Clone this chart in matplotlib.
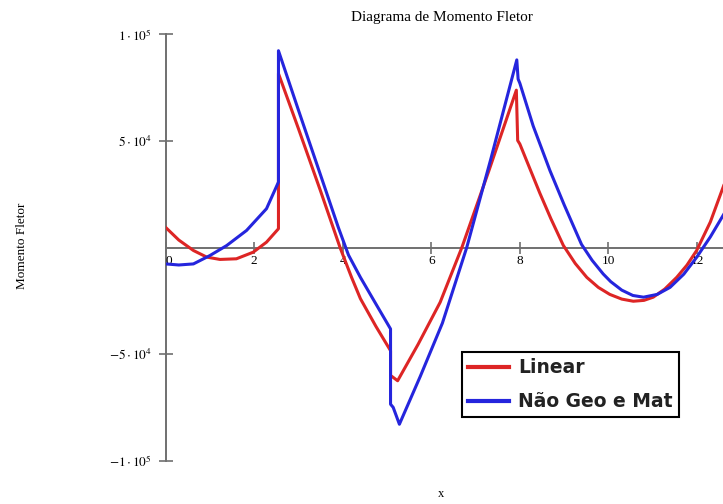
import numpy as np
import matplotlib
matplotlib.use("Agg")
import matplotlib.pyplot as plt

plt.rcParams['mathtext.fontset'] = 'stix'
plt.rcParams['font.family'] = ['Liberation Serif', 'DejaVu Serif']

# Linear
x_lin = [0.0, 0.3, 0.63, 0.93, 1.23, 1.6, 1.98, 2.28, 2.55, 2.55, 3.0, 3.5, 3.94,
         4.2, 4.4, 4.75, 5.08, 5.08, 5.24, 5.7, 6.2, 6.69, 7.3, 7.92, 7.95, 8.0,
         8.45, 8.7, 8.98, 9.25, 9.51, 9.77, 10.03, 10.3, 10.56, 10.8, 11.01, 11.27,
         11.54, 11.77, 11.99, 12.3, 12.6]
y_lin = [9500, 3500, -1400, -4500, -5600, -5300, -2200, 2500, 8800, 81600, 55800, 26500, 0,
         -14000, -24000, -37000, -48400, -60000, -62500, -45500, -25700, 0, 36000, 73800,
         50200, 48500, 25500, 13500, 1000, -7500, -14000, -18700, -22000, -24200, -25200,
         -24800, -23300, -19500, -14000, -8300, -1400, 12000, 29000]

# Nao linear geometrica e material
x_nl = [0.0, 0.3, 0.63, 1.0, 1.38, 1.83, 2.28, 2.55, 2.55, 3.0, 3.5, 3.9, 4.13, 4.4,
        4.75, 5.08, 5.08, 5.14, 5.28, 5.75, 6.25, 6.8, 7.35, 7.93, 7.96, 8.0, 8.3,
        8.68, 9.0, 9.2, 9.39, 9.63, 9.88, 10.05, 10.3, 10.55, 10.79, 11.1, 11.39,
        11.7, 11.99, 12.3, 12.6]
y_nl = [-7700, -8200, -7700, -3800, 900, 8000, 18200, 30700, 92300, 64500, 34000, 9500,
        -3500, -14000, -26500, -38200, -73500, -75000, -82900, -60500, -35500, 0, 42000,
        88000, 79000, 77000, 57000, 36000, 20000, 10500, 1500, -6000, -12400, -16000,
        -20000, -22500, -23300, -22000, -18700, -12500, -4600, 5000, 15500]

yticks = [-1e5, -5e4, 5e4, 1e5]
ytick_labels = [r'$-1\cdot10^{5}$', r'$-5\cdot10^{4}$', r'$5\cdot10^{4}$', r'$1\cdot10^{5}$']
xticks = [0, 2, 4, 6, 8, 10, 12]

fig = plt.figure(figsize=(7.23, 5.04), dpi=100)
ax = fig.add_axes([165.5/723, 43.3/504, 557.5/723, 426.4/504])

ax.plot(x_lin, y_lin, color='#dd2525', lw=2.2, label='Linear')
ax.plot(x_nl, y_nl, color='#2525dd', lw=2.2, label='Não Geo e Mat')

ax.set_xlim(0, 12.585)
ax.set_ylim(-1e5, 1e5)

for s in ['top', 'right']:
    ax.spines[s].set_visible(False)
ax.spines['left'].set_position(('data', 0))
ax.spines['bottom'].set_position(('data', 0))
for s in ['left', 'bottom']:
    ax.spines[s].set_color('#707070')
    ax.spines[s].set_linewidth(1.4)
    ax.spines[s].set_zorder(0)

ax.set_yticks(yticks)
ax.set_yticklabels(ytick_labels)
ax.set_xticks(xticks)
ax.set_xticklabels([str(v) for v in xticks])
ax.tick_params(axis='y', direction='inout', length=10, width=1.2, color='#707070',
               labelsize=9.5, pad=5)
ax.tick_params(axis='x', direction='inout', length=9, width=1.2, color='#707070',
               labelsize=9.5, pad=1)
ax.get_xticklabels()[0].set_horizontalalignment('left')

fig.text(442/723, 1 - 18/504, 'Diagrama de Momento Fletor', ha='center', va='center',
         fontsize=11)
fig.text(22/723, 1 - 246/504, 'Momento Fletor', ha='center', va='center',
         rotation=90, fontsize=9.5)
fig.text(441/723, 1 - 494/504, 'x', ha='center', va='center', fontsize=9)

leg = fig.legend(loc='upper left', bbox_to_anchor=(462/723, 1 - 352/504),
                 prop={'family': 'DejaVu Sans', 'size': 13.5, 'weight': 'bold'},
                 fancybox=False, edgecolor='black', framealpha=1,
                 handlelength=2.2, borderpad=0.33, labelspacing=0.8,
                 handletextpad=0.45, borderaxespad=0)
leg.get_frame().set_linewidth(1.5)
for t in leg.get_texts():
    t.set_color('#222222')
for line in leg.get_lines():
    line.set_linewidth(3)

fig.savefig('out.png', dpi=100)
